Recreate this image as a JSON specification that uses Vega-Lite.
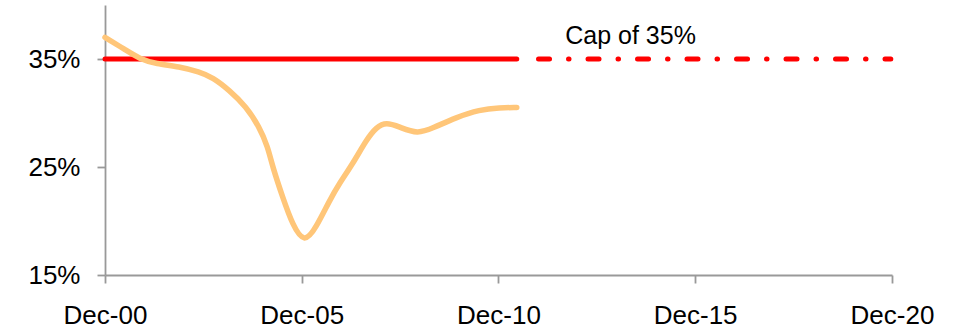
{
  "$schema": "https://vega.github.io/schema/vega-lite/v6.json",
  "autosize": "none",
  "padding": {"left": 105, "top": 5, "right": 63, "bottom": 55},
  "width": 787,
  "height": 270,
  "background": "white",
  "config": {
    "view": {"stroke": null},
    "font": "Liberation Sans",
    "axis": {
      "grid": false,
      "domainColor": "#999999",
      "domainWidth": 1.8,
      "tickColor": "#999999",
      "tickWidth": 1.8,
      "tickSize": 8,
      "labelFont": "Liberation Sans",
      "labelFontSize": 26,
      "labelColor": "#000000",
      "title": null
    }
  },
  "datasets": {
    "ratio": [
      {"date": "2000-12-01", "value": 37.0},
      {"date": "2001-06-01", "value": 35.9},
      {"date": "2001-10-20", "value": 35.0},
      {"date": "2002-03-20", "value": 34.55},
      {"date": "2002-10-22", "value": 34.3},
      {"date": "2003-04-25", "value": 33.8},
      {"date": "2003-08-28", "value": 33.3},
      {"date": "2004-01-30", "value": 32.1},
      {"date": "2004-07-03", "value": 30.6},
      {"date": "2004-11-03", "value": 28.7},
      {"date": "2005-01-19", "value": 26.9},
      {"date": "2005-03-06", "value": 25.0},
      {"date": "2005-06-07", "value": 22.2},
      {"date": "2005-09-08", "value": 19.6},
      {"date": "2005-12-26", "value": 17.9},
      {"date": "2006-04-14", "value": 19.4},
      {"date": "2006-08-16", "value": 21.9},
      {"date": "2006-11-17", "value": 23.5},
      {"date": "2007-03-20", "value": 25.3},
      {"date": "2007-07-23", "value": 27.5},
      {"date": "2007-10-25", "value": 28.7},
      {"date": "2008-01-25", "value": 29.15},
      {"date": "2008-05-28", "value": 28.7},
      {"date": "2008-11-12", "value": 28.05},
      {"date": "2009-03-30", "value": 28.6},
      {"date": "2009-11-05", "value": 29.6},
      {"date": "2010-06-07", "value": 30.3},
      {"date": "2010-12-12", "value": 30.5},
      {"date": "2011-05-20", "value": 30.5}
    ],
    "capActual": [
      {"date": "2000-12-01", "value": 35},
      {"date": "2011-05-20", "value": 35}
    ],
    "capFuture": [
      {"date": "2011-12-08", "value": 35},
      {"date": "2020-11-20", "value": 35}
    ],
    "label": [
      {"date": "2014-04-10", "value": 35, "text": "Cap of 35%"}
    ]
  },
  "encoding": {
    "x": {
      "field": "date",
      "type": "temporal",
      "scale": {
        "type": "utc",
        "domain": [
          {"year": 2000, "month": 12, "date": 1, "utc": true},
          {"year": 2020, "month": 12, "date": 1, "utc": true}
        ]
      },
      "axis": {
        "values": [
          {"year": 2000, "month": 12, "date": 1, "utc": true},
          {"year": 2005, "month": 12, "date": 1, "utc": true},
          {"year": 2010, "month": 12, "date": 1, "utc": true},
          {"year": 2015, "month": 12, "date": 1, "utc": true},
          {"year": 2020, "month": 12, "date": 1, "utc": true}
        ],
        "labelExpr": "utcFormat(datum.value, '%b-%y')",
        "labelPadding": 19,
        "labelFlush": false,
        "labelOverlap": false
      }
    },
    "y": {
      "field": "value",
      "type": "quantitative",
      "scale": {"domain": [15, 40], "nice": false, "zero": false},
      "axis": {
        "values": [15, 25, 35],
        "labelExpr": "datum.value + '%'",
        "labelPadding": 17
      }
    }
  },
  "layer": [
    {
      "data": {"name": "capActual"},
      "mark": {"type": "line", "color": "#ff0000", "strokeWidth": 5, "strokeCap": "round"}
    },
    {
      "data": {"name": "capFuture"},
      "mark": {"type": "line", "color": "#ff0000", "strokeWidth": 5, "strokeCap": "round", "strokeDash": [11, 19, 0.5, 19]}
    },
    {
      "data": {"name": "ratio"},
      "mark": {"type": "line", "color": "#ffc679", "strokeWidth": 5.5, "strokeCap": "round", "interpolate": "basis"}
    },
    {
      "data": {"name": "label"},
      "mark": {"type": "text", "font": "Liberation Sans", "fontSize": 25, "color": "#000000", "align": "center", "baseline": "alphabetic", "dy": -15},
      "encoding": {"text": {"field": "text"}}
    }
  ]
}
